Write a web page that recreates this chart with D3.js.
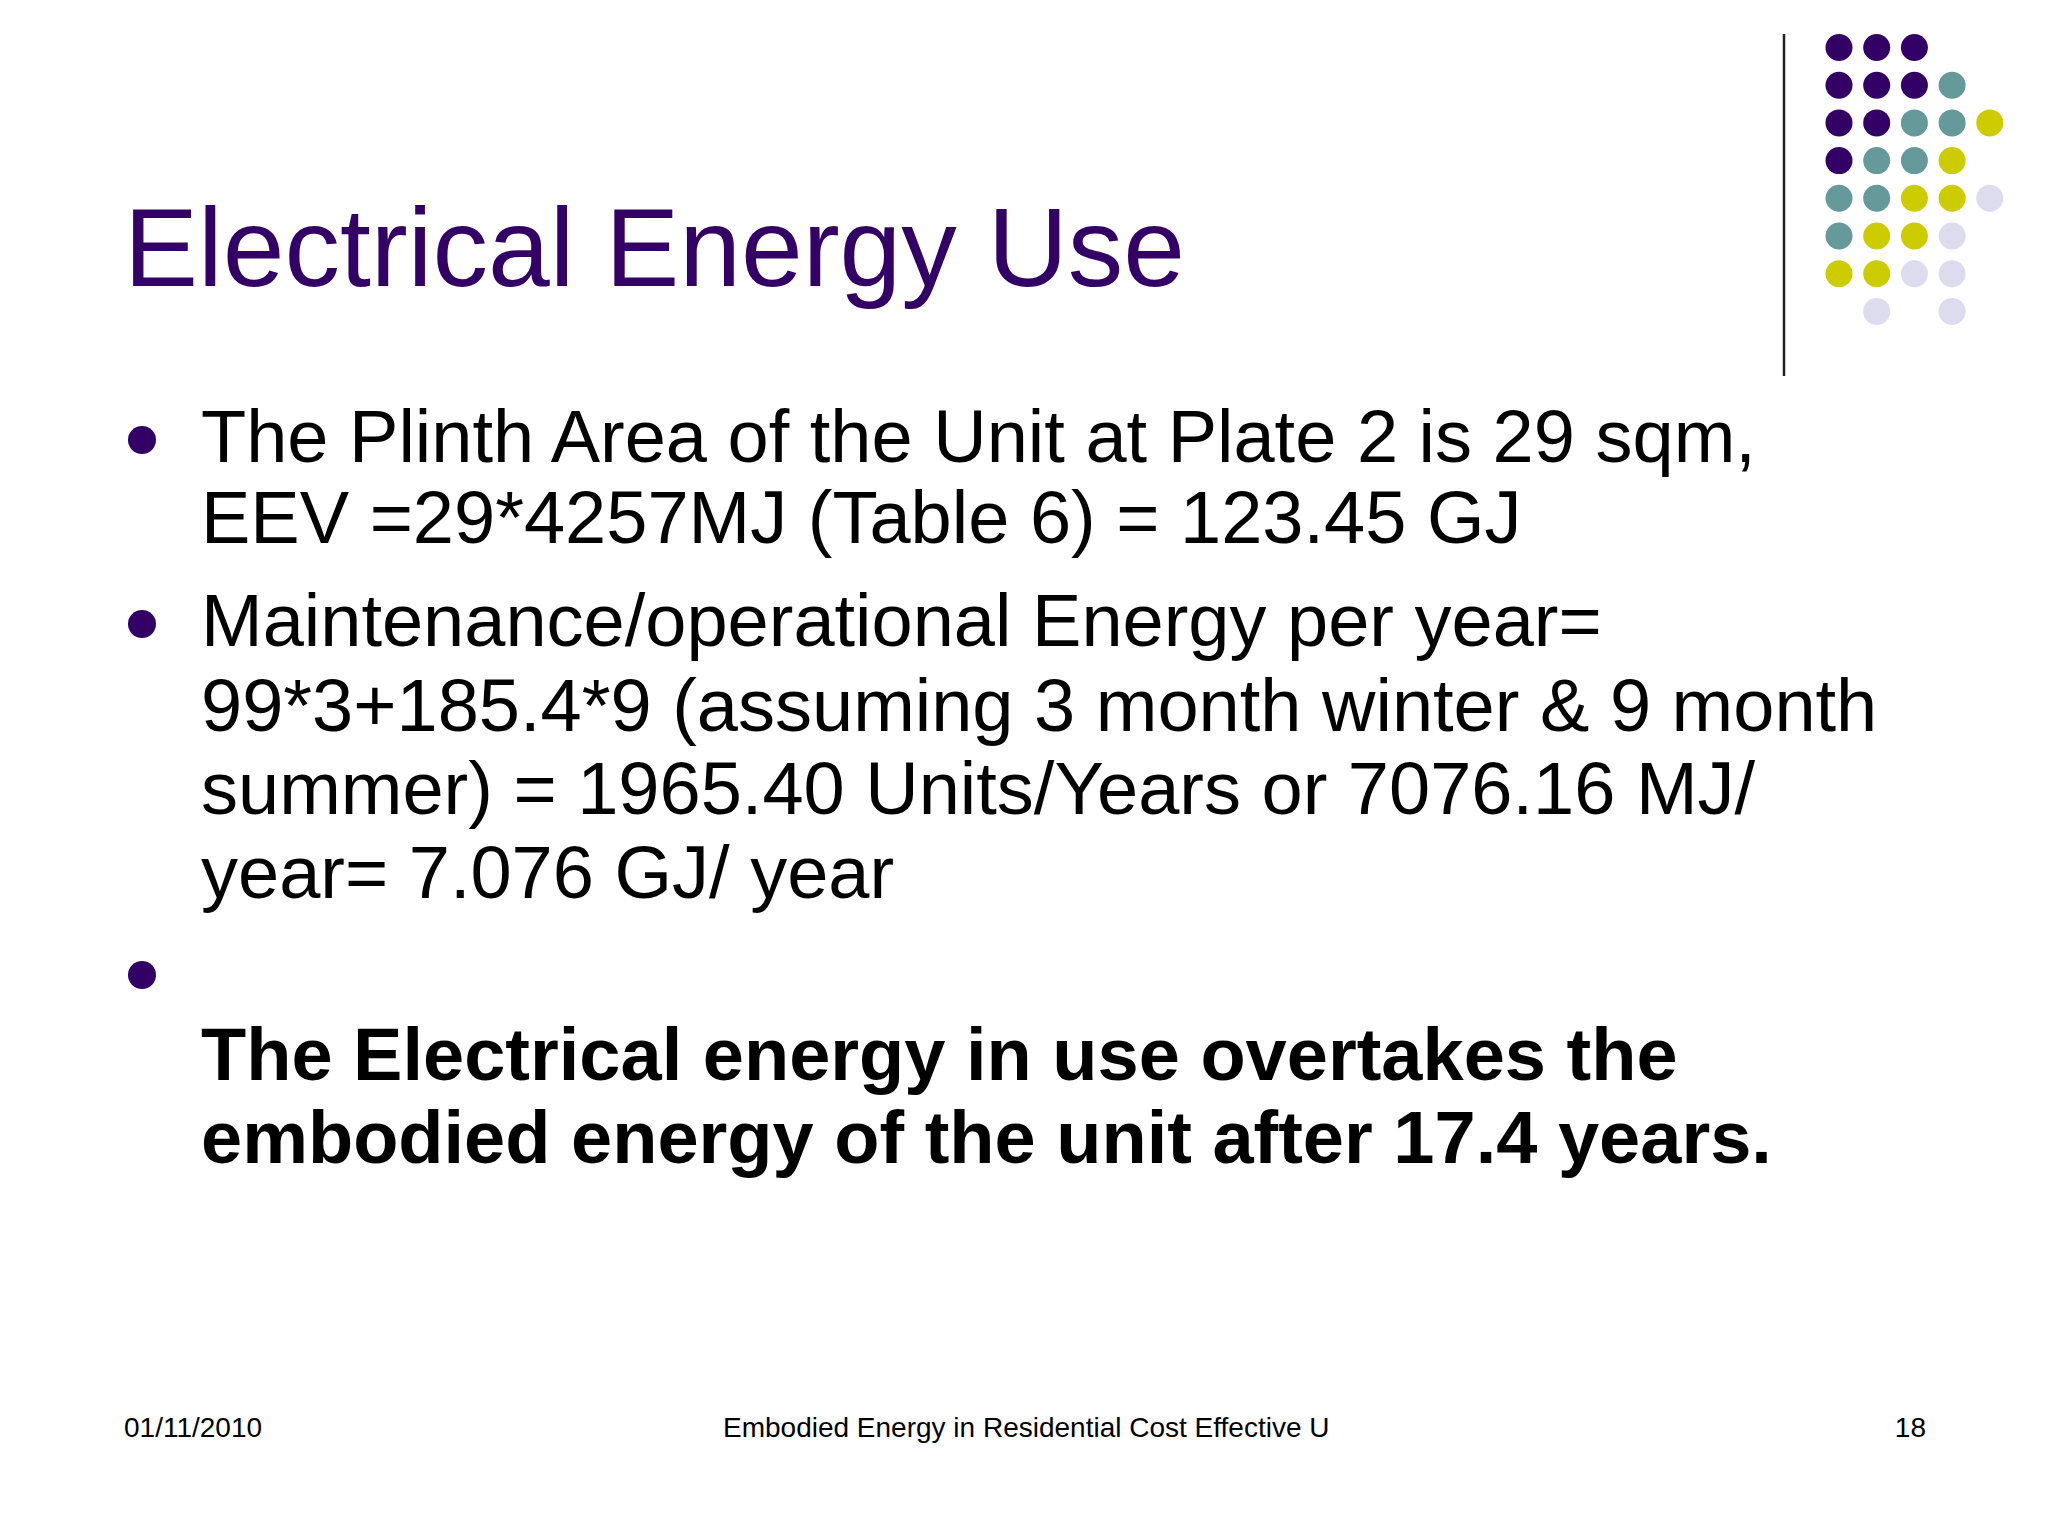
<!DOCTYPE html>
<html><head><meta charset="utf-8">
<script src="https://cdn.jsdelivr.net/npm/d3@7"></script>
<style>body{margin:0;background:#fff}svg{display:block}</style>
</head><body>
<script>
const title = "Electrical Energy Use";
const bullet1 = ["The Plinth Area of the Unit at Plate 2 is 29 sqm,", "EEV =29*4257MJ (Table 6) = 123.45 GJ"];
const bullet2 = ["Maintenance/operational Energy per year=", "99*3+185.4*9 (assuming 3 month winter & 9 month", "summer) = 1965.40 Units/Years or 7076.16 MJ/", "year= 7.076 GJ/ year"];
const bullet3 = ["The Electrical energy in use overtakes the", "embodied energy of the unit after 17.4 years."];
const footer = ["01/11/2010", "Embodied Energy in Residential Cost Effective U", "18"];
const dotRows = ["PPP", "PPPT", "PPTTY", "PTTY", "TTYYL", "TYYL", "YYLL", " L L"];
const dotColors = {P:"#330066", T:"#669999", Y:"#cccc00", L:"#dcdcee"};

const svg = d3.select("body").append("svg").attr("width",2048).attr("height",1536);
svg.append("rect").attr("width",2048).attr("height",1536).attr("fill","#fff");
const F = "Liberation Sans, Arial, sans-serif";

svg.append("line").attr("x1",1784).attr("x2",1784).attr("y1",34).attr("y2",376).attr("stroke","#222").attr("stroke-width",2.5);
const dots = [];
dotRows.forEach((r,i)=>r.split("").forEach((c,j)=>{ if(dotColors[c]) dots.push({i,j,c}); }));
const dx = d3.scaleLinear().domain([0,1]).range([1839,1876.7]);
const dy = d3.scaleLinear().domain([0,1]).range([47.5,85.2]);
svg.selectAll("circle.dot").data(dots).join("circle").attr("class","dot")
  .attr("cx",d=>dx(d.j)).attr("cy",d=>dy(d.i)).attr("r",13.5).attr("fill",d=>dotColors[d.c]);

svg.append("text").attr("x",124).attr("y",286).attr("font-family",F).attr("font-size",111).attr("fill","#330066").text(title);

const lines = [];
const base = [462,543,646,731,814,898];
bullet1.concat(bullet2).forEach((t,k)=>lines.push({t,y:base[k],b:false}));
bullet3.forEach((t,k)=>lines.push({t,y:[1080,1163][k],b:true}));
svg.selectAll("text.ln").data(lines).join("text").attr("class","ln")
  .attr("x",201).attr("y",d=>d.y).attr("font-family",F).attr("font-size",74)
  .attr("font-weight",d=>d.b?"bold":"normal").attr("fill","#000").text(d=>d.t);
svg.selectAll("circle.bul").data([440,624,975]).join("circle").attr("class","bul")
  .attr("cx",142).attr("cy",d=>d).attr("r",14).attr("fill","#330066");

const fs = 28, fy = 1437;
svg.append("text").attr("x",124).attr("y",fy).attr("font-family",F).attr("font-size",fs).text(footer[0]);
svg.append("text").attr("x",723).attr("y",fy).attr("font-family",F).attr("font-size",fs).text(footer[1]);
svg.append("text").attr("x",1926).attr("y",fy).attr("text-anchor","end").attr("font-family",F).attr("font-size",fs).text(footer[2]);
</script>
</body></html>
